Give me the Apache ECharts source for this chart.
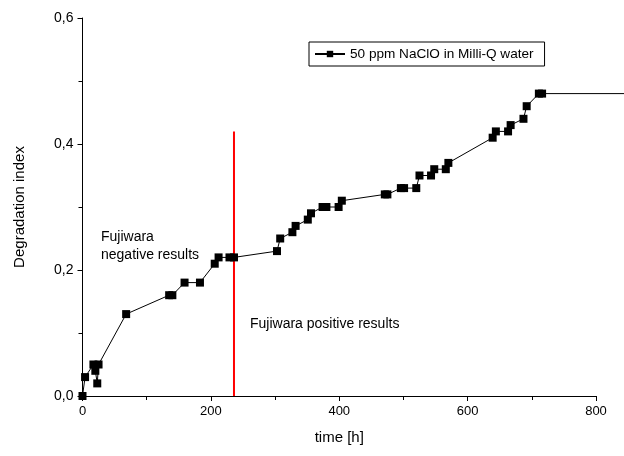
<!DOCTYPE html>
<html><head><meta charset="utf-8">
<script src="https://cdn.jsdelivr.net/npm/echarts@6/dist/echarts.min.js"></script>
<style>html,body{margin:0;padding:0;background:#fff}#c{width:624px;height:456px}</style>
</head><body><div id="c"></div>
<script>
const seriesName = '50 ppm NaClO in Milli-Q water';
const timeH = [0, 4, 17, 20, 23, 25, 68, 135, 140, 159, 183, 206, 212, 229, 236, 303, 308, 327, 332, 351, 356, 374, 380, 399, 404, 471, 475, 496, 501, 520, 525, 543, 548, 566, 570, 639, 644, 663, 667, 687, 692, 711, 716];
const degIndex = [0, 0.03, 0.05, 0.04, 0.02, 0.05, 0.13, 0.16, 0.16, 0.18, 0.18, 0.21, 0.22, 0.22, 0.22, 0.23, 0.25, 0.26, 0.27, 0.28, 0.29, 0.30, 0.30, 0.30, 0.31, 0.32, 0.32, 0.33, 0.33, 0.33, 0.35, 0.35, 0.36, 0.36, 0.37, 0.41, 0.42, 0.42, 0.43, 0.44, 0.46, 0.48, 0.48];
const tailTime = [716, 850];             // line continues off the right of the plot
const tailValue = [0.48, 0.48];
const redLineX = [236, 236];
const redLineY = [0, 0.42];
const xTicks = [0, 200, 400, 600, 800];
const yTicks = [0, 0.2, 0.4, 0.6];

const FONT = 'Liberation Sans, Arial, sans-serif';
const chart = echarts.init(document.getElementById('c'), null, {renderer: 'canvas'});

const G_LEFT = 82.5, G_RIGHT = 28, W = 624;
const plotW = W - G_LEFT - G_RIGHT;
// hidden wide axis sharing the same scale, so the tail line can run to the page edge
const wideMax = 800 * (W - G_LEFT) / plotW;

chart.setOption({
  animation: false,
  backgroundColor: '#fff',
  grid: [
    {left: G_LEFT, right: G_RIGHT, top: 18, bottom: 60},
    {left: G_LEFT, right: 0, top: 18, bottom: 60}
  ],
  legend: {
    data: [seriesName],
    left: 309, top: 42,
    padding: [5, 11, 5, 5],
    itemWidth: 30, itemHeight: 8, itemGap: 4,
    borderColor: '#000', borderWidth: 1, borderRadius: 0,
    textStyle: {fontFamily: FONT, fontSize: 13.6, color: '#000'}
  },
  xAxis: [{
    type: 'value', min: 0, max: 800, interval: 200, gridIndex: 0,
    name: 'time [h]', nameLocation: 'middle', nameGap: 34,
    nameTextStyle: {fontFamily: FONT, fontSize: 15, color: '#000'},
    axisLine: {onZero: false, lineStyle: {color: '#000', width: 1}},
    axisTick: {show: true, inside: false, length: 5, lineStyle: {color: '#000'}},
    minorTick: {show: true, splitNumber: 2, length: 4, lineStyle: {color: '#000'}},
    splitLine: {show: false},
    axisLabel: {fontFamily: FONT, fontSize: 13, color: '#000', margin: 9,
      formatter: v => xTicks.includes(v) ? String(v) : ''}
  }, {
    type: 'value', min: 0, max: wideMax, gridIndex: 1, show: false
  }],
  yAxis: [{
    type: 'value', min: 0, max: 0.6, interval: 0.2, gridIndex: 0,
    name: 'Degradation index', nameLocation: 'middle', nameGap: 55, nameRotate: 90,
    nameTextStyle: {fontFamily: FONT, fontSize: 15, color: '#000'},
    axisLine: {show: true, onZero: false, lineStyle: {color: '#000', width: 1}},
    axisTick: {show: true, inside: false, length: 5, lineStyle: {color: '#000'}},
    minorTick: {show: true, splitNumber: 2, length: 4, lineStyle: {color: '#000'}},
    splitLine: {show: false},
    axisLabel: {fontFamily: FONT, fontSize: 14, color: '#000', margin: 9,
      formatter: v => {
        const t = yTicks.find(k => Math.abs(k - v) < 1e-9);
        return t === undefined ? '' : t.toFixed(1).replace('.', ',');
      }}
  }, {
    type: 'value', min: 0, max: 0.6, gridIndex: 1, show: false
  }],
  series: [
    {
      name: seriesName, type: 'line', data: timeH.map((t, i) => [t, degIndex[i]]),
      symbol: 'rect', symbolSize: 8, clip: false,
      lineStyle: {color: '#000', width: 1},
      itemStyle: {color: '#000'},
      z: 4
    },
    {
      name: 'tail', type: 'line', xAxisIndex: 1, yAxisIndex: 1,
      data: tailTime.map((t, i) => [t, tailValue[i]]),
      symbol: 'none', clip: false,
      lineStyle: {color: '#000', width: 1}, z: 3
    },
    {
      name: 'Fujiwara limit', type: 'line',
      data: redLineX.map((x, i) => [x, redLineY[i]]),
      symbol: 'none', lineStyle: {color: '#f00', width: 2}, z: 2
    }
  ],
  graphic: [
    {type: 'text', left: 101, top: 228, style: {text: 'Fujiwara\nnegative results', font: '14px ' + FONT, fill: '#000', lineHeight: 18}},
    {type: 'text', left: 250, top: 317, style: {text: 'Fujiwara positive results', font: '14px ' + FONT, fill: '#000'}}
  ]
});
</script></body></html>
